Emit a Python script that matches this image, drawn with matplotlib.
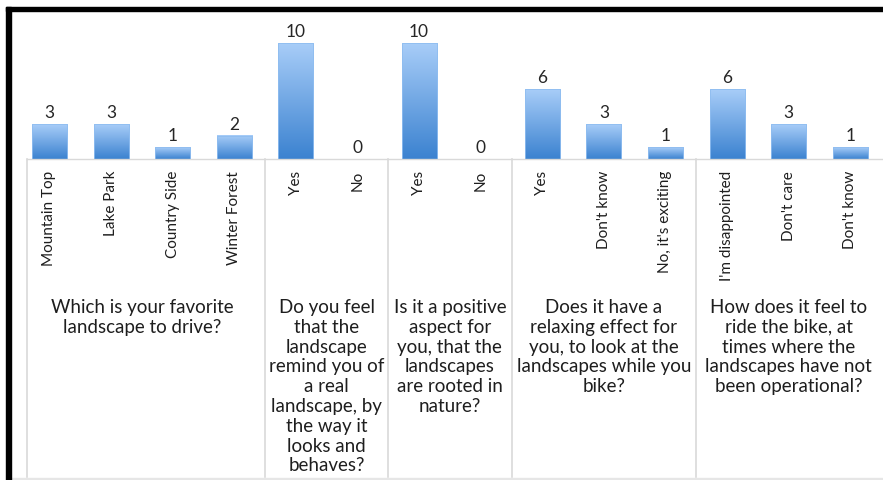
import numpy as np
import matplotlib
matplotlib.use("Agg")
import matplotlib.pyplot as plt
import matplotlib.transforms as mtransforms
from matplotlib.patches import Rectangle
from matplotlib.colors import LinearSegmentedColormap

categories = ["Mountain Top", "Lake Park", "Country Side", "Winter Forest",
              "Yes", "No",
              "Yes", "No",
              "Yes", "Don't know", "No, it's exciting",
              "I'm disappointed", "Don't care", "Don't know"]
values = [3, 3, 1, 2, 10, 0, 10, 0, 6, 3, 1, 6, 3, 1]
group_sizes = [4, 2, 2, 3, 3]
group_labels = [
    "Which is your favorite\nlandscape to drive?",
    "Do you feel\nthat the\nlandscape\nremind you of\na real\nlandscape, by\nthe way it\nlooks and\nbehaves?",
    "Is it a positive\naspect for\nyou, that the\nlandscapes\nare rooted in\nnature?",
    "Does it have a\nrelaxing effect for\nyou, to look at the\nlandscapes while you\nbike?",
    "How does it feel to\nride the bike, at\ntimes where the\nlandscapes have not\nbeen operational?",
]

W, H = 883, 481
fig = plt.figure(figsize=(W / 100, H / 100), dpi=100)
fig.patch.set_facecolor("white")

# axes placement in pixels
ax_left, ax_right, ax_bottom, ax_top = 27, 883, 160, 12
ax = fig.add_axes([ax_left / W, (H - ax_bottom) / H,
                   (ax_right - ax_left) / W, (ax_bottom - ax_top) / H])
spacing = 61.6
first_center = 49.5
px_per_unit = 11.6
for s in ["top", "right", "left"]:
    ax.spines[s].set_visible(False)
ax.spines["bottom"].set_color("#d9d9d9")
ax.spines["bottom"].set_linewidth(1.0)
ax.set_xticks([])
ax.set_yticks([])
ax.patch.set_alpha(0)

x = np.arange(len(categories))
bw = 0.57
cmap = LinearSegmentedColormap.from_list("bg", ["#3b82d0", "#a8cdf8"])
grad = np.linspace(0, 1, 256).reshape(-1, 1)
bars = ax.bar(x, values, width=bw, color="none", edgecolor="none")
for b, v in zip(bars, values):
    if v > 0:
        ax.imshow(grad, extent=[b.get_x(), b.get_x() + bw, 0, v], origin="lower",
                  cmap=cmap, aspect="auto", zorder=2)
        ax.add_patch(Rectangle((b.get_x(), 0), bw, v, fill=False,
                               edgecolor="#8fbdf0", linewidth=0.6, zorder=3))
    ax.annotate(str(v), (b.get_x() + bw / 2, v), xytext=(0, 3),
                textcoords="offset points", ha="center", va="bottom",
                fontsize=12.5, color="#262626", family="Lato")
ax.set_xlim((ax_left - first_center) / spacing, (ax_right - first_center) / spacing)
ax.set_ylim(0, (ax_bottom - ax_top) / px_per_unit)

trans = mtransforms.blended_transform_factory(ax.transData, ax.transAxes)
axh = ax_bottom - ax_top
def yfrac(py):
    return (ax_bottom - py) / axh

# category labels
for xi, c in zip(x, categories):
    ax.text(xi, yfrac(171), c, rotation=90, ha="center", va="top",
            transform=trans, fontsize=11, color="#1e1e1e", family="Lato",
            clip_on=False)

# separators
bounds = np.cumsum([0] + group_sizes)
ax.plot([0, 0], [0, yfrac(478)], transform=ax.transAxes, color="#d9d9d9",
        lw=1.2, clip_on=False)
for bnd in bounds[1:-1]:
    ax.plot([bnd - 0.5, bnd - 0.5], [0, yfrac(478)], transform=trans,
            color="#d9d9d9", lw=1.2, clip_on=False)

# group labels
for i, lab in enumerate(group_labels):
    cx = (bounds[i] + bounds[i + 1] - 1) / 2
    ax.text(cx, yfrac(299), lab, ha="center", va="top", transform=trans,
            fontsize=13.5, color="#1e1e1e", family="Lato", linespacing=1.2,
            multialignment="center", clip_on=False)

# frame
fig.patches.append(Rectangle((6 / W, (H - 12) / H), (W - 6) / W, 4 / H,
                             transform=fig.transFigure, color="black", zorder=10))
fig.patches.append(Rectangle((6 / W, 0), 4.5 / W, (H - 8) / H,
                             transform=fig.transFigure, color="black", zorder=10))
fig.patches.append(Rectangle((10 / W, 1 / H), (W - 10) / W, 1.2 / H,
                             transform=fig.transFigure, color="#e6e6e6", zorder=9))

fig.savefig("out.png", dpi=100, facecolor="white")
